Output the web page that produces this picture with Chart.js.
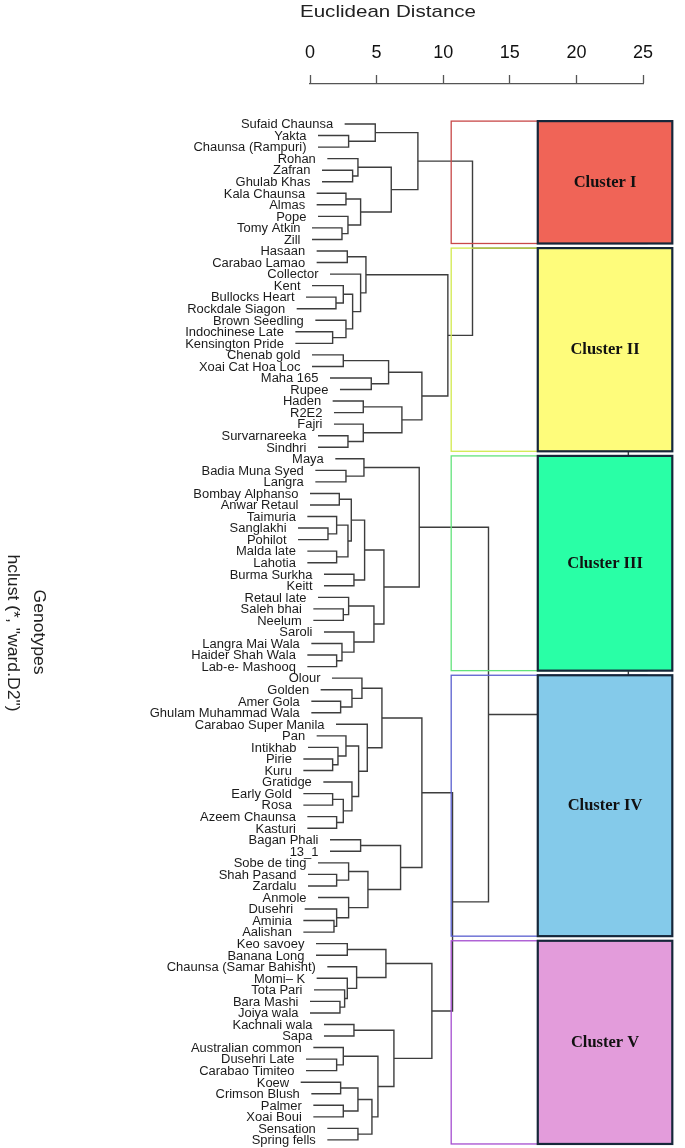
<!DOCTYPE html>
<html><head><meta charset="utf-8">
<script src="https://cdn.jsdelivr.net/npm/chart.js@4.4.1/dist/chart.umd.min.js"></script>
<style>html,body{margin:0;padding:0;background:#fff;}#wrap{position:relative;width:685px;height:1148px;}</style>
</head><body><div id="wrap"><canvas id="c"></canvas></div>
<script>
// Leaf labels (top to bottom)
const genotypes = [
 'Sufaid Chaunsa','Yakta','Chaunsa (Rampuri)','Rohan','Zafran','Ghulab Khas','Kala Chaunsa','Almas','Pope','Tomy Atkin','Zill',
 'Hasaan','Carabao Lamao','Collector','Kent','Bullocks Heart','Rockdale Siagon','Brown Seedling','Indochinese Late','Kensington Pride',
 'Chenab gold','Xoai Cat Hoa Loc','Maha 165','Rupee','Haden','R2E2','Fajri','Survarnareeka','Sindhri',
 'Maya','Badia Muna Syed','Langra','Bombay Alphanso','Anwar Retaul','Taimuria','Sanglakhi','Pohilot','Malda late','Lahotia',
 'Burma Surkha','Keitt','Retaul late','Saleh bhai','Neelum','Saroli','Langra Mai Wala','Haider Shah Wala','Lab-e- Mashooq',
 'Olour','Golden','Amer Gola','Ghulam Muhammad Wala','Carabao Super Manila','Pan','Intikhab','Pirie','Kuru','Gratidge',
 'Early Gold','Rosa','Azeem Chaunsa','Kasturi','Bagan Phali','13_1','Sobe de ting','Shah Pasand','Zardalu','Anmole',
 'Dusehri','Aminia','Aalishan',
 'Keo savoey','Banana Long','Chaunsa (Samar Bahisht)','Momi\u2013 K','Tota Pari','Bara Mashi','Joiya wala','Kachnali wala','Sapa',
 'Australian common','Dusehri Late','Carabao Timiteo','Koew','Crimson Blush','Palmer','Xoai Boui','Sensation','Spring fells'
];
// Distance at which each leaf branch starts
const leafStart = [
 2.6,0.6,0.6,1.3,0.9,0.9,0.5,0.5,0.6,0.15,0.15,
 0.5,0.5,1.5,0.15,-0.3,-1.0,0.4,-1.1,-1.1,
 0.15,0.15,1.5,2.25,1.7,1.8,1.8,0.6,0.6,
 1.9,0.4,0.4,0.0,0.0,-0.2,-0.9,-0.9,-0.2,-0.2,
 1.05,1.05,0.6,0.25,0.25,1.05,0.1,-0.2,-0.2,
 1.65,0.8,0.1,0.1,1.95,0.5,-0.15,-0.5,-0.5,1.0,
 -0.5,-0.5,-0.2,-0.2,1.5,1.5,0.6,-0.15,-0.15,0.6,
 -0.4,-0.5,-0.5,
 0.45,0.45,1.3,0.5,0.3,0.0,0.0,1.05,1.05,
 0.25,-0.3,-0.3,-0.7,0.1,0.25,0.25,1.3,1.3
];
// Merge table: [childA, childB, height]; negative = leaf number, positive = earlier merge number
const merges = [
 [-2,-3,2.9],[-1,1,4.9],[-5,-6,3.2],[-4,3,3.6],[-7,-8,2.7],[-10,-11,2.4],[-9,6,2.85],[5,7,3.8],[4,8,6.1],[2,9,8.1],
 [-12,-13,2.8],[-16,-17,1.95],[-15,12,2.5],[-19,-20,1.7],[-18,14,2.7],[13,15,3.2],[-14,16,3.8],[11,17,4.2],
 [-21,-22,2.5],[-23,-24,4.6],[19,20,5.9],[-25,-26,4.0],[-28,-29,2.85],[-27,23,4.0],[22,24,6.9],[21,25,8.4],[18,26,10.35],
 [-31,-32,2.7],[-30,28,4.05],[-33,-34,2.2],[-36,-37,1.35],[-35,31,2.0],[-38,-39,2.0],[32,33,2.85],[30,34,3.1],
 [-40,-41,3.3],[35,36,4.1],[-43,-44,2.5],[-42,38,2.9],[-47,-48,2.0],[-46,40,2.4],[-45,41,3.3],[39,42,4.8],[37,43,5.55],[29,44,8.2],
 [-51,-52,2.3],[-50,46,3.15],[-49,47,3.9],[-56,-57,1.7],[-55,49,2.1],[-54,50,2.7],[-59,-60,1.7],[-61,-62,2.0],[52,53,2.5],
 [-58,54,3.15],[51,55,3.65],[-53,56,4.3],[48,57,5.4],[-63,-64,3.8],[-66,-67,2.0],[-65,60,2.9],[-70,-71,1.8],[-69,62,2.0],
 [-68,63,2.9],[61,64,4.35],[59,65,6.8],[58,66,8.4],
 [-72,-73,2.8],[-77,-78,2.25],[-76,69,2.6],[-75,70,2.8],[-74,71,3.5],[68,72,5.7],[-79,-80,3.3],[-82,-83,2.0],[-81,75,2.5],
 [-84,-85,2.3],[-86,-87,2.5],[77,78,3.6],[-88,-89,3.6],[79,80,4.65],[76,81,5.1],[74,82,6.3],[73,83,9.15],
 [10,27,12.2],[67,84,10.7],[45,86,13.4],[85,87,23.9]
];
const axisTicks = [0,5,10,15,20,25];
const clusterNames = ['Cluster I','Cluster II','Cluster III','Cluster IV','Cluster V'];
const clusterFirst = [1,12,30,49,72];
const clusterLast = [11,29,48,71,89];
const clusterFill = ['#F06457','#FEFC7B','#29FFA6','#84CAEA','#E39CDB'];
const clusterLine = ['#C84848','#D2EA4E','#63E37C','#5A5FCF','#A54ED0'];

const nodeY = [];
function childPos(c){
  if (c < 0) return {x: leafStart[-c-1], y: -c};
  return {x: merges[c-1][2], y: nodeY[c-1]};
}
merges.forEach((m,i)=>{ const a=childPos(m[0]), b=childPos(m[1]); nodeY[i]=(a.y+b.y)/2; });
const datasets = merges.map(m=>{
  const a=childPos(m[0]), b=childPos(m[1]), h=m[2];
  return {
    data:[{x:a.x,y:a.y},{x:h,y:a.y},{x:h,y:b.y},{x:b.x,y:b.y}],
    showLine:true, borderColor:'#3d3d3d', borderWidth:1.4, pointRadius:0, pointHoverRadius:0,
    fill:false, tension:0, clip:false, borderJoinStyle:'miter', borderCapStyle:'butt'
  };
});

const decor = {
  id:'decor',
  afterDatasetsDraw(chart){
    const {ctx, scales:{x,y}} = chart;
    ctx.save();
    clusterNames.forEach((name,i)=>{
      const top = y.getPixelForValue(clusterFirst[i]-0.25), bot = y.getPixelForValue(clusterLast[i]+0.35);
      const l1 = x.getPixelForValue(10.6), r1 = x.getPixelForValue(25.3);
      ctx.strokeStyle = clusterLine[i]; ctx.lineWidth = 1.3;
      ctx.strokeRect(l1, top, r1-l1, bot-top);
      const l2 = x.getPixelForValue(17.1), r2 = x.getPixelForValue(27.2);
      ctx.fillStyle = clusterFill[i]; ctx.fillRect(l2, top, r2-l2, bot-top);
      ctx.strokeStyle = '#16273a'; ctx.lineWidth = 2.2; ctx.strokeRect(l2, top, r2-l2, bot-top);
      ctx.fillStyle = '#111'; ctx.font = 'bold 16.5px "Liberation Serif", "Times New Roman", serif';
      ctx.textAlign = 'center'; ctx.textBaseline = 'middle';
      ctx.fillText(name, (l2+r2)/2, (top+bot)/2);
    });
    ctx.font = '12px "Liberation Sans", Arial, sans-serif';
    ctx.fillStyle = '#1b1b1b'; ctx.textAlign = 'right'; ctx.textBaseline = 'middle';
    genotypes.forEach((g,i)=>{
      const px = x.getPixelForValue(leafStart[i]) - 11.5, py = y.getPixelForValue(i+1) + 1;
      ctx.save(); ctx.translate(px, py); ctx.scale(1.08, 1); ctx.fillText(g, 0, 0); ctx.restore();
    });
    // axis title
    ctx.fillStyle = '#222'; ctx.textAlign = 'center';
    ctx.font = '17px "Liberation Sans", Arial, sans-serif';
    ctx.save(); ctx.translate(388, 12); ctx.scale(1.21, 1); ctx.fillText('Euclidean Distance', 0, 0); ctx.restore();
    // vertical titles
    ctx.font = '16px "Liberation Sans", Arial, sans-serif';
    ctx.save(); ctx.translate(38, 632); ctx.rotate(Math.PI/2); ctx.scale(1.1, 1); ctx.fillText('Genotypes', 0, 0); ctx.restore();
    ctx.save(); ctx.translate(12, 633); ctx.rotate(Math.PI/2); ctx.scale(1.1, 1); ctx.fillText('hclust (*, "ward.D2")', 0, 0); ctx.restore();
    ctx.restore();
  }
};

new Chart(document.getElementById('c'), {
  type:'scatter',
  data:{datasets},
  options:{
    responsive:true, maintainAspectRatio:false, animation:false, events:[],
    layout:{padding:{left:310, right:42, top:0, bottom:0}},
    plugins:{legend:{display:false}, tooltip:{enabled:false}},
    scales:{
      x:{
        type:'linear', position:'top', min:axisTicks[0], max:axisTicks[axisTicks.length-1],
        afterBuildTicks:(s)=>{ s.ticks = axisTicks.map(v=>({value:v})); },
        afterFit:(s)=>{ s.height = 84; },
        ticks:{color:'#111', padding:11, font:{size:18, family:'"Liberation Sans", Arial, sans-serif'}, autoSkip:false, maxRotation:0},
        grid:{drawOnChartArea:false, drawTicks:true, tickLength:9, tickColor:'#555', tickWidth:1.3},
        border:{display:true, color:'#555', width:1.3}
      },
      y:{type:'linear', reverse:true, min:-2.465, max:89.70, display:false}
    }
  },
  plugins:[decor]
});
</script></body></html>
